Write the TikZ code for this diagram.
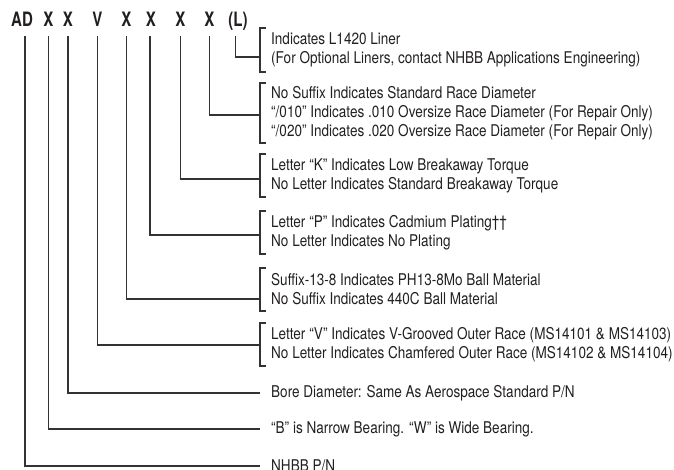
\documentclass[tikz,border=0pt]{standalone}
\usepackage{fontspec}
\setmainfont[FakeStretch=0.836]{TeX Gyre Heros}
\newfontfamily\titlefont[FakeStretch=0.76]{TeX Gyre Heros}
\definecolor{ink}{HTML}{231F20}
\definecolor{rule}{HTML}{333333}
\begin{document}
\begin{tikzpicture}[x=1pt,y=-1pt,
  letter/.style={font=\titlefont\bfseries\fontsize{19.8}{20}\selectfont, text=ink, inner sep=0pt,
    text height=14pt, text depth=0pt, outer ysep=9pt, outer xsep=0pt, anchor=base},
  desc/.style={font=\fontsize{16.2}{19}\selectfont, text=ink, align=left, inner sep=0pt, anchor=west},
  lead/.style={draw=rule, line width=1.1pt},
  brak/.style={draw=rule, line width=1.1pt}]
\useasboundingbox (0,0) rectangle (674,470);
% title letters
\node[letter] (lAD) at (22,27) {AD};
\node[letter] (lX1) at (48.5,27) {X};
\node[letter] (lX2) at (68,27) {X};
\node[letter] (lV) at (97.5,27) {V};
\node[letter] (lX3) at (126.5,27) {X};
\node[letter] (lX4) at (151,27) {X};
\node[letter] (lX5) at (180.5,27) {X};
\node[letter] (lX6) at (209.5,27) {X};
\node[letter] (lL) at (238,27) {(L)};
% descriptions
\node[desc] (tL) at (271,50) {Indicates L1420 Liner\\(For Optional Liners, contact NHBB Applications Engineering)};
\node[desc] (tR) at (271,113) {No Suffix Indicates Standard Race Diameter\\“/010” Indicates .010 Oversize Race Diameter (For Repair Only)\\“/020” Indicates .020 Oversize Race Diameter (For Repair Only)};
\node[desc] (tK) at (271,175.5) {Letter “K” Indicates Low Breakaway Torque\\No Letter Indicates Standard Breakaway Torque};
\node[desc] (tP) at (271,232.5) {Letter “P” Indicates Cadmium Plating††\\No Letter Indicates No Plating};
\node[desc] (tS) at (271,289.5) {Suffix-13-8 Indicates PH13-8Mo Ball Material\\No Suffix Indicates 440C Ball Material};
\node[desc] (tV) at (271,344.5) {Letter “V” Indicates V-Grooved Outer Race (MS14101 \& MS14103)\\No Letter Indicates Chamfered Outer Race (MS14102 \& MS14104)};
\node[desc] (tB) at (271,393) {Bore Diameter: Same As Aerospace Standard P/N};
\node[desc] (tW) at (271,429) {“B” is Narrow Bearing. “W” is Wide Bearing.};
\node[desc] (tN) at (271,466) {NHBB P/N};
% brackets
\draw[brak] (266,28) -- (260,28) -- (260,72) -- (266,72);
\draw[brak] (266,83) -- (260,83) -- (260,143) -- (266,143);
\draw[brak] (266,154) -- (260,154) -- (260,197) -- (266,197);
\draw[brak] (266,211) -- (260,211) -- (260,254) -- (266,254);
\draw[brak] (266,268) -- (260,268) -- (260,311) -- (266,311);
\draw[brak] (266,323) -- (260,323) -- (260,366) -- (266,366);
% lead end points
\coordinate (cL) at (260,57);
\coordinate (cR) at (260,115);
\coordinate (cK) at (260,179);
\coordinate (cP) at (260,235);
\coordinate (cS) at (260,299);
\coordinate (cV) at (260,345);
\coordinate (cB) at (260,393);
\coordinate (cW) at (260,429);
\coordinate (cN) at (260,466);
% leads
\draw[lead] ([xshift=-2.5pt]lL.south) |- (cL);
\draw[lead] (lX6.south) |- (cR);
\draw[lead] (lX5.south) |- (cK);
\draw[lead] ([xshift=-1pt]lX4.south) |- (cP);
\draw[lead] (lX3.south) |- (cS);
\draw[lead] (lV.south) |- (cV);
\draw[lead] (lX2.south) |- (cB);
\draw[lead] (lX1.south) |- (cW);
\draw[lead] ([xshift=3pt]lAD.south) |- (cN);
\end{tikzpicture}
\end{document}
